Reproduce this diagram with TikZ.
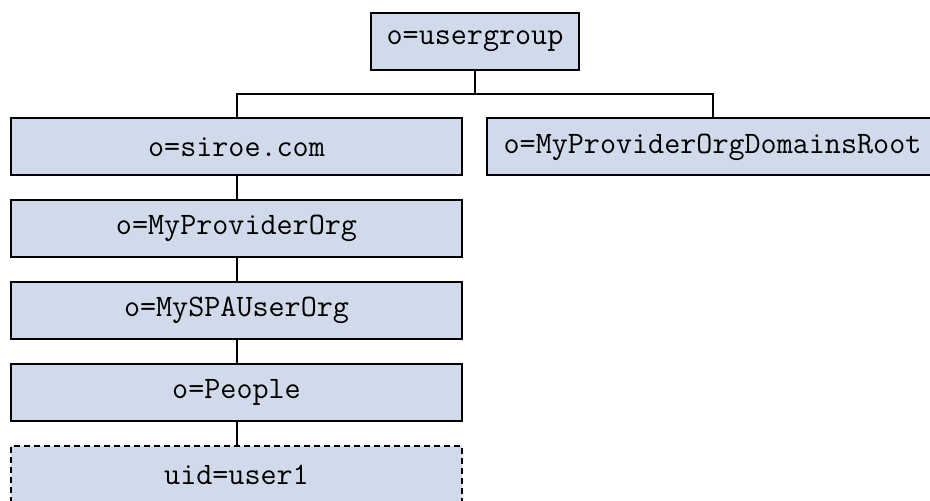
\documentclass[tikz,border=0pt]{standalone}
\usepackage{fontspec}
\definecolor{boxfill}{RGB}{208,218,234}
\begin{document}
\begin{tikzpicture}[x=0.5pt,y=-0.5pt,
  entry/.style={draw=black, line width=1pt, fill=boxfill, rectangle,
    minimum height=28.5pt, inner sep=0pt, font=\ttfamily\fontsize{15.6}{18}\selectfont},
  wide/.style={entry, minimum width=225.5pt},
  link/.style={draw=black, line width=1pt}]
  \useasboundingbox (0,0) rectangle (930,501);
  \clip (0,0) rectangle (930,501);
  % root of the tree
  \node[entry, minimum width=104pt] (ug) at (475,41.5) {o=usergroup};
  % first level
  \node[wide] (siroe) at (236.5,147) {o=siroe.com};
  \node[wide] (root) at (712.5,147) {o=MyProviderOrgDomainsRoot};
  % chain below siroe.com
  \node[wide] (prov) at (236.5,228.5) {o=MyProviderOrg};
  \node[wide] (spa) at (236.5,310.5) {o=MySPAUserOrg};
  \node[wide] (people) at (236.5,392.5) {o=People};
  \node[wide, dashed, dash pattern=on 3pt off 2pt] (user) at (236.5,474.5) {uid=user1};
  % connectors
  \coordinate (bus) at (475,94);
  \draw[link] (ug.south) -- (bus);
  \draw[link] (siroe.north) |- (bus) -| (root.north);
  \draw[link] (siroe) -- (prov);
  \draw[link] (prov) -- (spa);
  \draw[link] (spa) -- (people);
  \draw[link] (people) -- (user);
\end{tikzpicture}
\end{document}
